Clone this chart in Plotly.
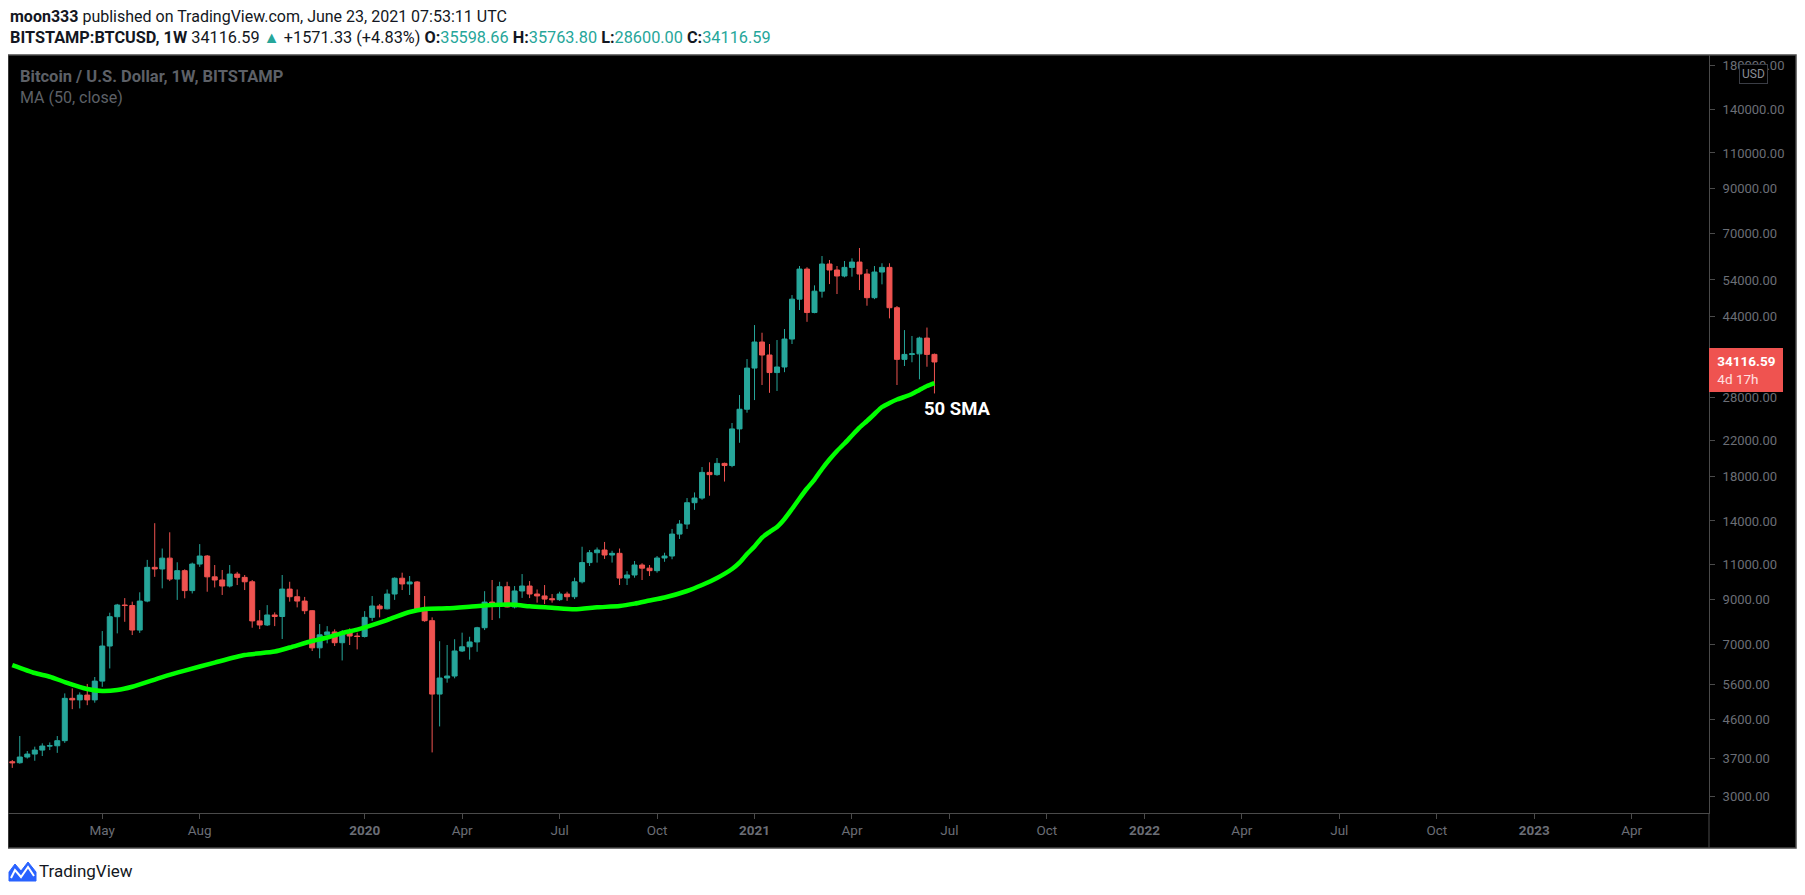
import pandas as pd
import plotly.graph_objects as go

# ---------------- data (weekly BTCUSD, Bitstamp) ----------------
first_week = "2019-02-11"
n_weeks = 124
weeks = pd.date_range(first_week, periods=n_weeks, freq="W-MON")

opens = [3635, 3615, 3732, 3795, 3880, 3969, 3975, 4090, 5185, 5140,
         5280, 5140, 5710, 6950, 8190, 8745, 8720, 7600, 8940, 10800,
         10700, 11370, 10110, 10600, 9480, 11000, 11506, 10240, 10060, 9726,
         10400, 10210, 9960, 8000, 7820, 8270, 8200, 9560, 9160, 8940,
         8470, 6880, 7400, 7520, 7080, 7520, 7350, 7330, 8160, 8695,
         8560, 9300, 10160, 9840, 9950, 8450, 8010, 5310, 5810, 5875,
         6760, 6920, 7110, 7700, 8890, 8700, 9690, 8650, 9460, 9726,
         9300, 9200, 9060, 9010, 9300, 9160, 9960, 11090, 11720, 11900,
         11570, 11680, 10170, 10345, 10940, 10750, 10600, 11380, 11506, 13010,
         13760, 15510, 15920, 18380, 18150, 19330, 19100, 23450, 26180, 32970,
         38150, 35470, 32150, 33170, 38790, 48500, 57400, 45000, 50720, 59050,
         57110, 55220, 57950, 59700, 55840, 48900, 56460, 57950, 46230, 34620,
         35590, 35700, 39000, 35598.66]
highs = [3670, 4198, 3860, 3955, 4030, 4050, 4198, 5330, 5480, 5360,
         5620, 5843, 7557, 8375, 8800, 9090, 8910, 9390, 11260, 13830,
         12000, 13140, 11110, 10680, 11090, 12300, 11570, 10940, 10640, 10940,
         10530, 10345, 10060, 8500, 8740, 8390, 10345, 9960, 9540, 9150,
         8500, 7860, 7770, 7630, 7600, 7670, 7490, 8450, 9196, 8790,
         9540, 10210, 10480, 10286, 10000, 9196, 8160, 7140, 6990, 7220,
         7490, 7320, 7740, 9450, 10060, 9960, 9960, 9726, 10400, 10000,
         9540, 9780, 9300, 9420, 9420, 10190, 12120, 11900, 12070, 12450,
         11850, 12000, 10570, 11190, 11050, 10940, 11506, 11720, 13390, 14070,
         15920, 16430, 18940, 19450, 19920, 19410, 24240, 28350, 34680, 41950,
         40190, 37730, 38580, 41030, 49630, 58400, 58000, 52400, 61760, 60400,
         58400, 60060, 60970, 64600, 57400, 58400, 59300, 59300, 46680, 40790,
         39460, 39300, 41370, 35763.80]
lows = [3512, 3595, 3700, 3655, 3753, 3880, 3820, 4040, 4880, 4900,
        4990, 5060, 5530, 6130, 7460, 7960, 7390, 7480, 8880, 10240,
        9600, 10000, 9000, 9080, 9330, 10830, 9420, 9650, 9250, 9650,
        9780, 9510, 7700, 7640, 7773, 7770, 7230, 8910, 8630, 8310,
        6760, 6490, 7055, 6950, 6410, 6990, 6820, 7290, 8000, 8160,
        8530, 9000, 9510, 9250, 8410, 7960, 3830, 4430, 5660, 5800,
        6720, 6440, 6730, 7600, 8040, 8120, 8630, 8580, 9100, 9090,
        8860, 8790, 8860, 8950, 8950, 9040, 9870, 10880, 11090, 11320,
        11090, 9780, 9780, 10190, 10060, 10286, 10480, 11140, 11300, 12660,
        13390, 14900, 15770, 16130, 18040, 17460, 18920, 21700, 25680, 27560,
        29990, 28700, 29000, 32220, 37730, 45640, 42720, 44820, 48920, 52780,
        49920, 54800, 55020, 51040, 46750, 48500, 52700, 43550, 29990, 33350,
        34060, 30960, 33220, 28600.00]
closes = [3615, 3732, 3795, 3880, 3969, 3975, 4090, 5185, 5140, 5280,
          5140, 5710, 6950, 8190, 8745, 8720, 7600, 8940, 10800, 10700,
          11370, 10110, 10600, 9480, 11000, 11506, 10240, 10060, 9726, 10400,
          10210, 9960, 8000, 7820, 8270, 8200, 9560, 9160, 8940, 8470,
          6880, 7400, 7520, 7080, 7520, 7350, 7330, 8160, 8695, 8560,
          9300, 10160, 9840, 9950, 8450, 8010, 5310, 5810, 5875, 6760,
          6920, 7110, 7700, 8890, 8700, 9690, 8650, 9460, 9726, 9300,
          9200, 9040, 9010, 9300, 9160, 9960, 11090, 11720, 11900, 11570,
          11680, 10170, 10345, 10940, 10750, 10600, 11380, 11506, 13010, 13760,
          15510, 15920, 18380, 18150, 19330, 19100, 23450, 26180, 32970, 38150,
          35470, 32150, 33170, 38790, 48500, 57400, 45000, 50720, 59050, 57110,
          55220, 57950, 59700, 55840, 48900, 56460, 57950, 46230, 34620, 35590,
          35700, 39000, 35598.66, 34116.59]

# 50-week SMA at these week positions
ma_week_index = [0, 3, 5, 7, 10, 12, 14, 16, 20, 23, 27, 31, 35, 37, 40, 42, 44, 46, 50, 53,
                 55, 58, 61, 64, 67, 69, 72, 75, 78, 81, 83, 85, 87, 90, 92, 94, 96, 97, 98, 99,
                 100, 101, 102, 103, 104, 105, 106, 107, 108, 109, 110, 111, 112, 113, 114, 115,
                 116, 117, 118, 119, 120, 121, 122, 123]
ma_values = [6248, 5975, 5852, 5680, 5463, 5403, 5433, 5533, 5842, 6058,
             6335, 6608, 6739, 6892, 7147, 7289, 7474, 7621, 8040, 8407,
             8550, 8584, 8661, 8744, 8760, 8680, 8612, 8540, 8632, 8695,
             8812, 8966, 9120, 9459, 9780, 10172, 10698, 11088, 11635, 12134,
             12762, 13160, 13535, 14157, 14974, 15879, 16795, 17660, 18734, 19754,
             20720, 21607, 22598, 23620, 24512, 25490, 26510, 27110, 27650, 28040,
             28510, 29160, 29818, 30320]

y_tick_values = [3000, 3700, 4600, 5600, 7000, 9000, 11000, 14000, 18000, 22000,
                 28000, 36000, 44000, 54000, 70000, 90000, 110000, 140000, 180000]
x_tick_dates = ["2019-05-06", "2019-08-05", "2020-01-06", "2020-04-06", "2020-07-06",
                "2020-10-05", "2021-01-04", "2021-04-05", "2021-07-05", "2021-10-04",
                "2022-01-03", "2022-04-04", "2022-07-04", "2022-10-03", "2023-01-02",
                "2023-04-03"]
x_tick_labels = ["May", "Aug", "<b>2020</b>", "Apr", "Jul", "Oct", "<b>2021</b>", "Apr",
                 "Jul", "Oct", "<b>2022</b>", "Apr", "Jul", "Oct", "<b>2023</b>", "Apr"]

last_price = closes[-1]

# ---------------- layout geometry (screen pixels) ----------------
OFF = 8                      # default page margin of the html body
FW, FH = 1789, 879           # figure size (fits the window incl. body margin)
PL, PR, PT, PB = 8, 1709, 55, 813   # plot area on screen


def px(x):
    return (x - PL) / (PR - PL)


def py(y):
    return (PB - y) / (PB - PT)


UP, DOWN = "#26a69a", "#ef5350"
AXIS_TXT = "#6b6e76"
BORDER = "#4a4a4a"
FONT = "Roboto"

fig = go.Figure()

fig.add_trace(go.Candlestick(
    x=weeks, open=opens, high=highs, low=lows, close=closes,
    increasing=dict(line=dict(color=UP, width=1), fillcolor=UP),
    decreasing=dict(line=dict(color=DOWN, width=1), fillcolor=DOWN),
    whiskerwidth=0, showlegend=False, hoverinfo="skip",
))

fig.add_trace(go.Scatter(
    x=[weeks[i] for i in ma_week_index], y=ma_values, mode="lines",
    line=dict(color="#00ff00", width=4.5, shape="spline", smoothing=0.6),
    showlegend=False, hoverinfo="skip",
))

shapes = [
    dict(type="rect", xref="paper", yref="paper", x0=px(8), x1=px(1796), y0=py(848), y1=py(55),
         fillcolor="#000000", line=dict(color=BORDER, width=1.5), layer="below"),
    dict(type="line", xref="paper", yref="paper", x0=1, x1=1, y0=py(848), y1=0,
         line=dict(color=BORDER, width=1), layer="above"),
    dict(type="path", xref="paper", yref="paper",
         path="M {} {} L {} {} L {} {} L {} {} L {} {} L {} {} L {} {} Z".format(
             px(9), py(881), px(9), py(872), px(15), py(864), px(21), py(871),
             px(28), py(862), px(36), py(872), px(36), py(881)),
         fillcolor="#2962ff", line=dict(color="#2962ff", width=1), layer="above"),
    dict(type="path", xref="paper", yref="paper",
         path="M {} {} L {} {} L {} {} L {} {} L {} {}".format(
             px(11), py(878), px(15), py(870), px(21), py(877), px(28), py(867), px(34), py(876)),
         line=dict(color="#ffffff", width=2), layer="above"),
]

annotations = [
    dict(xref="paper", yref="paper", x=px(8), y=py(16), xanchor="left", yanchor="middle",
         showarrow=False, font=dict(family=FONT, size=16, color="#131722"),
         text="<b>moon333</b> published on TradingView.com, June 23, 2021 07:53:11 UTC"),
    dict(xref="paper", yref="paper", x=px(8), y=py(37), xanchor="left", yanchor="middle",
         showarrow=False, font=dict(family=FONT, size=16.3, color="#131722"),
         text=("<b>BITSTAMP:BTCUSD, 1W</b> 34116.59 <span style='color:%s'>▲</span> +1571.33 (+4.83%%) "
               "<b>O:</b><span style='color:%s'>35598.66</span> <b>H:</b><span style='color:%s'>35763.80</span> "
               "<b>L:</b><span style='color:%s'>28600.00</span> <b>C:</b><span style='color:%s'>34116.59</span>")
         % (UP, UP, UP, UP, UP)),
    dict(xref="paper", yref="paper", x=px(18), y=py(76), xanchor="left", yanchor="middle",
         showarrow=False, font=dict(family=FONT, size=16.5, color="#5d6067"),
         text="<b>Bitcoin / U.S. Dollar, 1W, BITSTAMP</b>"),
    dict(xref="paper", yref="paper", x=px(18), y=py(97), xanchor="left", yanchor="middle",
         showarrow=False, font=dict(family=FONT, size=16, color="#5d6067"),
         text="MA (50, close)"),
    dict(xref="paper", yref="paper", x=px(922), y=py(409), xanchor="left", yanchor="middle",
         showarrow=False, font=dict(family=FONT, size=18.5, color="#ffffff"),
         text="<b>50 SMA</b>"),
    dict(xref="paper", yref="paper", x=px(1753), y=py(74.5), xanchor="center", yanchor="middle",
         showarrow=False, font=dict(family=FONT, size=12, color="#8a8d95"),
         text="USD", bgcolor="#000000", bordercolor="#3a3d45", borderwidth=1, borderpad=2),
    dict(xref="paper", yref="paper", x=px(1709), y=py(370), xanchor="left", yanchor="middle",
         showarrow=False, font=dict(family=FONT, size=13.5, color="#ffffff"), align="left",
         text="&nbsp;<b>%.2f</b><br>&nbsp;<span style='color:#ffe0e0'>4d 17h</span>" % last_price,
         bgcolor=DOWN, bordercolor=DOWN, borderwidth=1, borderpad=4, width=64),
    dict(xref="paper", yref="paper", x=px(37), y=py(871), xanchor="left", yanchor="middle",
         showarrow=False, font=dict(family=FONT, size=17, color="#131722"),
         text="TradingView"),
]

fig.update_layout(
    width=FW, height=FH, autosize=False,
    margin=dict(l=PL - OFF, r=FW - (PR - OFF), t=PT - OFF, b=FH - (PB - OFF), pad=0),
    paper_bgcolor="#ffffff", plot_bgcolor="#000000",
    showlegend=False, boxgap=0.3, boxgroupgap=0.05,
    shapes=shapes, annotations=annotations,
    font=dict(family=FONT),
)

fig.update_xaxes(
    type="date", range=["2019-02-07", "2023-06-14 04:00"],
    rangeslider=dict(visible=False),
    tickvals=x_tick_dates, ticktext=x_tick_labels,
    showgrid=False, zeroline=False, showline=True, linecolor=BORDER, linewidth=1,
    ticks="outside", ticklen=5, tickcolor=BORDER, tickwidth=1,
    tickfont=dict(family=FONT, size=13.5, color=AXIS_TXT),
)

fig.update_yaxes(
    type="log", side="right", range=[3.4358, 5.2797],
    tickvals=y_tick_values, ticktext=["%.2f" % v for v in y_tick_values],
    showgrid=False, zeroline=False, showline=True, linecolor=BORDER, linewidth=1,
    ticks="outside", ticklen=5, tickcolor=BORDER, tickwidth=1,
    ticklabelstandoff=5,
    tickfont=dict(family=FONT, size=13, color=AXIS_TXT),
)

fig.write_html("out.html", config={"displayModeBar": False})
